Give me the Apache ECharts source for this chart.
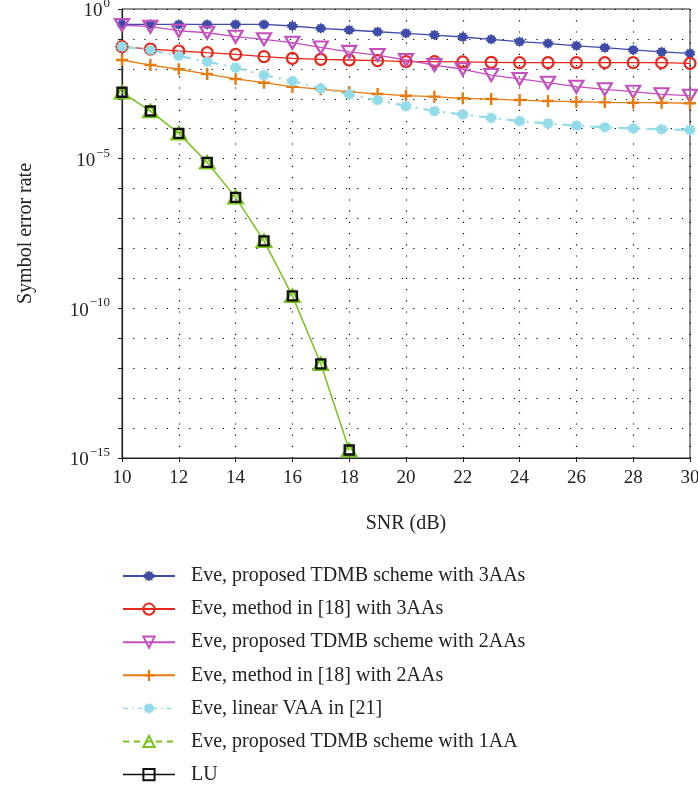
<!DOCTYPE html>
<html>
<head>
<meta charset="utf-8">
<script src="https://cdn.jsdelivr.net/npm/echarts@6/dist/echarts.min.js"></script>
<style>
html,body{margin:0;padding:0;background:#fff;}
#chart{width:698px;height:786px;}
</style>
</head>
<body>
<div id="chart"></div>
<script>
// ---------- data ----------
const snr = [10,11,12,13,14,15,16,17,18,19,20,21,22,23,24,25,26,27,28,29,30];
const snrLow = [10,11,12,13,14,15,16,17,18];

const prop3AA = [0.308,0.308,0.305,0.305,0.305,0.305,0.27,0.226,0.199,0.174,0.154,0.135,0.116,0.097,0.081,0.071,0.059,0.051,0.043,0.037,0.033];
const ref18_3AA = [0.055,0.046,0.0395,0.0347,0.0306,0.0255,0.0225,0.0209,0.0198,0.0188,0.0174,0.0174,0.0172,0.0166,0.0161,0.0161,0.0161,0.0161,0.0161,0.0161,0.0153];
const prop2AA = [0.292,0.256,0.188,0.161,0.119,0.097,0.075,0.052,0.037,0.029,0.0198,0.0134,0.0097,0.0062,0.0046,0.00345,0.00254,0.00207,0.00173,0.00141,0.00127];
const ref18_2AA = [0.0198,0.0134,0.0097,0.0067,0.0046,0.00345,0.0025,0.0021,0.0017,0.00145,0.00127,0.00118,0.00104,0.00098,0.00091,0.00084,0.0008,0.00076,0.00074,0.00074,0.00071];
const linearVAA = [0.055,0.0427,0.0269,0.0174,0.011,0.0062,0.0039,0.0022,0.0014,0.00091,0.00057,0.00039,0.0003,0.00023,0.00018,0.00015,0.000126,0.000112,0.000103,0.000096,0.000091];
const prop1AA = [0.00165,3.9e-4,7e-5,7.5e-6,5.1e-7,1.8e-8,2.6e-10,1.4e-12,1.85e-15];
const luRate = [0.00165,3.9e-4,7e-5,7.5e-6,5.1e-7,1.8e-8,2.6e-10,1.4e-12,1.85e-15];

const seriesNames = [
  'Eve, proposed TDMB scheme with 3AAs',
  'Eve, method in [18] with 3AAs',
  'Eve, proposed TDMB scheme with 2AAs',
  'Eve, method in [18] with 2AAs',
  'Eve, linear VAA in [21]',
  'Eve, proposed TDMB scheme with 1AA',
  'LU'
];
const xTickValues = [10,12,14,16,18,20,22,24,26,28,30];
const yLabelExponents = [0,-5,-10,-15];

// ---------- styles ----------
const FONT = '"Liberation Serif", "Times New Roman", serif';
const cBlue = '#3f4ba8', cRed = '#e5281d', cMag = '#c450bf', cOrange = '#e67b10',
      cCyan = '#92dbe9', cGreen = '#78c31c', cBlack = '#111';

function starPath(n, inner) {
  let d = '';
  for (let i = 0; i < 2 * n; i++) {
    const r = i % 2 === 0 ? 1 : inner;
    const a = Math.PI * i / n - Math.PI / 2;
    d += (i === 0 ? 'M' : 'L') + (r * Math.cos(a)).toFixed(3) + ',' + (r * Math.sin(a)).toFixed(3);
  }
  return 'path://' + d + 'Z';
}
const asterisk = starPath(10, 0.72);
const plusPath = 'path://M4,0L6,0L6,4L10,4L10,6L6,6L6,10L4,10L4,6L0,6L0,4L4,4Z';

function pairs(xs, ys) { return xs.map((x, i) => [x, ys[i]]); }

const dotted = { color: '#000', width: 1.2, type: [1.2, 10] };

const option = {
  animation: false,
  backgroundColor: '#fff',
  textStyle: { fontFamily: FONT },
  grid: { left: 122, top: 9, right: 8, bottom: 328, containLabel: false, outerBoundsMode: 'none',
          show: true, borderColor: '#222', borderWidth: 1, backgroundColor: 'transparent' },
  xAxis: {
    type: 'value', min: 10, max: 30, interval: 2,
    name: 'SNR (dB)', nameLocation: 'middle', nameGap: 56,
    nameTextStyle: { fontFamily: FONT, fontSize: 20, color: '#222' },
    axisLine: { lineStyle: { color: '#222', width: 1.2 } },
    axisTick: { show: true, inside: false, length: 4, lineStyle: { color: '#222' } },
    axisLabel: { fontFamily: FONT, fontSize: 19, color: '#222', margin: 11,
      formatter: v => xTickValues.indexOf(v) >= 0 ? String(v) : '' },
    splitLine: { show: true, lineStyle: dotted }
  },
  yAxis: {
    type: 'log', logBase: 10, min: 1e-15, max: 1, interval: 1, splitNumber: 15,
    name: 'Symbol error rate', nameLocation: 'middle', nameGap: 86,
    nameTextStyle: { fontFamily: FONT, fontSize: 20, color: '#222' },
    axisLine: { show: true, lineStyle: { color: '#222', width: 1.2 } },
    axisTick: { show: true, inside: false, length: 4, lineStyle: { color: '#222' } },
    axisLabel: {
      margin: 12,
      formatter: function (v) {
        const e = Math.round(Math.log10(v));
        if (yLabelExponents.indexOf(e) < 0) return '';
        const s = e === 0 ? '0' : '\u2212' + (-e);
        return '{b|10}{s|' + s + '}';
      },
      rich: {
        b: { fontFamily: FONT, fontSize: 19, color: '#222', lineHeight: 24, verticalAlign: 'bottom', padding: [6, 0, 0, 0] },
        s: { fontFamily: FONT, fontSize: 13, color: '#222', lineHeight: 24, verticalAlign: 'top', padding: [0, 0, 0, 1] }
      }
    },
    splitLine: { show: true, lineStyle: dotted }
  },
  legend: {
    orient: 'vertical', left: 122, top: 566, padding: 0,
    itemWidth: 52, itemHeight: 14, itemGap: 13.1,
    textStyle: { fontFamily: FONT, fontSize: 20, color: '#222', lineHeight: 20, padding: [0, 0, 0, 11] },
    data: [
      { name: seriesNames[0] },
      { name: seriesNames[1] },
      { name: seriesNames[2] },
      { name: seriesNames[3] },
      { name: seriesNames[4], lineStyle: { type: [5, 4, 1.5, 4], width: 1.3 } },
      { name: seriesNames[5], lineStyle: { type: [6, 5] } },
      { name: seriesNames[6], lineStyle: { color: cBlack, width: 1.5, opacity: 1 } }
    ]
  },
  series: [
    { name: seriesNames[0], type: 'line', data: pairs(snr, prop3AA),
      symbol: asterisk, symbolSize: 11,
      lineStyle: { color: cBlue, width: 1.3 }, itemStyle: { color: cBlue } },
    { name: seriesNames[1], type: 'line', data: pairs(snr, ref18_3AA),
      symbol: 'circle', symbolSize: 11,
      lineStyle: { color: cRed, width: 1.3 }, itemStyle: { color: 'rgba(255,255,255,0)', borderColor: cRed, borderWidth: 2.2 } },
    { name: seriesNames[2], type: 'line', data: pairs(snr, prop2AA),
      symbol: 'triangle', symbolRotate: 180, symbolSize: [14, 12],
      lineStyle: { color: cMag, width: 1.3 }, itemStyle: { color: 'rgba(255,255,255,0)', borderColor: cMag, borderWidth: 2.2 } },
    { name: seriesNames[3], type: 'line', data: pairs(snr, ref18_2AA),
      symbol: plusPath, symbolSize: 12,
      lineStyle: { color: cOrange, width: 1.3 }, itemStyle: { color: cOrange } },
    { name: seriesNames[4], type: 'line', data: pairs(snr, linearVAA),
      symbol: asterisk, symbolSize: 12,
      lineStyle: { color: cCyan, width: 2.2, type: [14, 6, 2, 6] }, itemStyle: { color: cCyan } },
    { name: seriesNames[5], type: 'line', data: pairs(snrLow, prop1AA),
      symbol: 'triangle', symbolSize: [14, 12],
      lineStyle: { color: cGreen, width: 1.5 }, itemStyle: { color: 'rgba(255,255,255,0)', borderColor: cGreen, borderWidth: 2.5 } },
    { name: seriesNames[6], type: 'line', data: pairs(snrLow, luRate),
      symbol: 'rect', symbolSize: 9,
      lineStyle: { color: cBlack, width: 1.5, opacity: 0 }, itemStyle: { color: 'rgba(255,255,255,0)', borderColor: cBlack, borderWidth: 2.4 } }
  ]
};

const chart = echarts.init(document.getElementById('chart'), null, { renderer: 'canvas' });
chart.setOption(option);
</script>
</body>
</html>
